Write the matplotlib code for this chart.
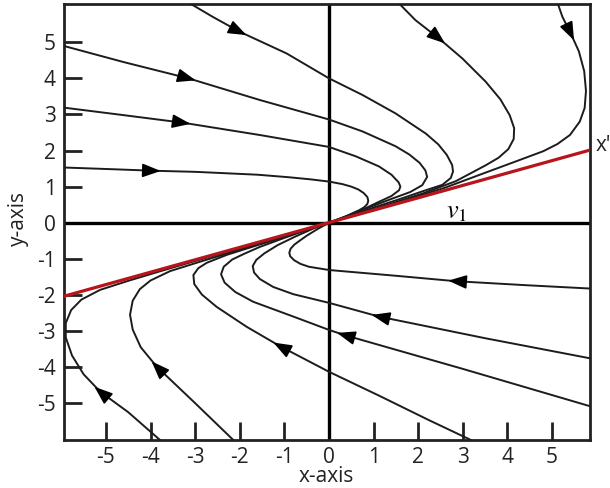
import numpy as np
import matplotlib
matplotlib.use("Agg")
import matplotlib.pyplot as plt

plt.rcParams['font.family'] = ['Open Sans', 'DejaVu Sans']
plt.rcParams['axes.unicode_minus'] = False
plt.rcParams['mathtext.fontset'] = 'stix'

# axis ticks
x_ticks = [-5, -4, -3, -2, -1, 0, 1, 2, 3, 4, 5]
y_ticks = [-5, -4, -3, -2, -1, 0, 1, 2, 3, 4, 5]

# eigenvector direction v1 (end points of the drawn line)
v1_x = [-5.95, 5.9]
v1_y = [-2.04, 2.03]

# trajectories, each listed in the direction of motion (toward the origin)
traj_u1 = [(-5.95, 1.53), (-4.8, 1.48), (-3.94, 1.44), (-3.0, 1.41), (-2.3, 1.37),
           (-1.6, 1.33), (-0.9, 1.26), (-0.4, 1.20), (0.0, 1.14), (0.30, 1.07),
           (0.50, 1.00), (0.66, 0.92), (0.78, 0.82), (0.86, 0.71), (0.88, 0.61),
           (0.86, 0.52), (0.79, 0.43), (0.68, 0.35), (0.40, 0.19), (0.0, 0.0)]
traj_u2 = [(-5.95, 3.19), (-4.6, 2.98), (-3.27, 2.77), (-1.55, 2.43), (0.0, 2.10),
           (0.6, 1.84), (1.12, 1.56), (1.40, 1.33), (1.56, 1.12), (1.60, 1.0),
           (1.57, 0.90), (1.40, 0.74), (1.12, 0.58), (0.75, 0.36), (0.35, 0.16), (0.0, 0.0)]
traj_u3 = [(-5.95, 4.90), (-4.6, 4.45), (-3.15, 4.0), (-1.55, 3.40), (0.0, 2.86),
           (0.75, 2.53), (1.49, 2.12), (1.80, 1.89), (2.03, 1.66), (2.16, 1.45),
           (2.20, 1.27), (2.09, 1.04), (1.82, 0.85), (1.40, 0.66), (0.95, 0.45),
           (0.5, 0.22), (0.0, 0.0)]
traj_u4 = [(-3.15, 6.1), (-2.6, 5.7), (-2.0, 5.29), (-0.95, 4.69), (0.0, 4.0),
           (0.75, 3.54), (1.49, 3.03), (2.17, 2.47), (2.45, 2.17), (2.64, 1.88),
           (2.76, 1.60), (2.78, 1.42), (2.73, 1.24), (2.54, 1.05), (2.12, 0.88),
           (1.55, 0.64), (1.0, 0.42), (0.5, 0.2), (0.0, 0.0)]
traj_u5 = [(1.55, 6.1), (1.94, 5.61), (2.47, 5.1), (2.99, 4.55), (3.51, 3.91),
           (3.84, 3.42), (4.05, 2.98), (4.15, 2.62), (4.14, 2.32), (4.02, 2.04),
           (3.80, 1.80), (3.51, 1.59), (2.84, 1.15), (2.1, 0.81), (1.4, 0.53),
           (0.7, 0.26), (0.0, 0.0)]
traj_u6 = [(5.12, 6.1), (5.23, 5.71), (5.42, 5.24), (5.60, 4.75), (5.72, 4.20),
           (5.76, 3.65), (5.73, 3.18), (5.62, 2.80), (5.40, 2.43), (5.12, 2.18),
           (4.80, 1.98), (4.19, 1.70), (3.36, 1.32), (2.6, 0.97), (1.8, 0.66),
           (0.9, 0.32), (0.0, 0.0)]

traj_l1 = [(5.95, -1.83), (4.4, -1.73), (2.84, -1.62), (1.5, -1.47), (0.0, -1.31),
           (-0.45, -1.22), (-0.64, -1.14), (-0.78, -1.04), (-0.87, -0.93),
           (-0.89, -0.83), (-0.86, -0.72), (-0.78, -0.61), (-0.66, -0.50),
           (-0.50, -0.36), (-0.25, -0.17), (0.0, 0.0)]
traj_l2 = [(5.95, -3.78), (3.5, -3.2), (1.12, -2.60), (0.0, -2.22), (-0.80, -1.98),
           (-1.25, -1.78), (-1.55, -1.56), (-1.68, -1.38), (-1.71, -1.20),
           (-1.63, -1.03), (-1.45, -0.85), (-1.15, -0.62), (-0.75, -0.38),
           (-0.35, -0.16), (0.0, 0.0)]
traj_l3 = [(5.95, -5.12), (3.0, -4.05), (0.34, -3.11), (0.0, -2.97), (-0.80, -2.60),
           (-1.70, -2.19), (-2.10, -1.92), (-2.34, -1.66), (-2.42, -1.43),
           (-2.36, -1.22), (-2.17, -1.02), (-1.90, -0.86), (-1.55, -0.67),
           (-1.0, -0.42), (-0.5, -0.2), (0.0, 0.0)]
traj_l4 = [(3.18, -6.02), (2.24, -5.47), (1.12, -4.79), (0.0, -4.13), (-1.10, -3.42),
           (-1.85, -2.88), (-2.52, -2.33), (-2.85, -1.99), (-3.02, -1.70),
           (-3.04, -1.45), (-2.93, -1.26), (-2.74, -1.11), (-2.29, -0.89),
           (-1.7, -0.66), (-1.1, -0.43), (-0.55, -0.21), (0.0, 0.0)]
traj_l5 = [(-2.12, -6.05), (-3.0, -5.0), (-3.86, -3.99), (-4.22, -3.45),
           (-4.40, -2.96), (-4.46, -2.55), (-4.40, -2.16), (-4.24, -1.84),
           (-4.00, -1.60), (-3.56, -1.34), (-2.89, -1.08), (-2.2, -0.82),
           (-1.5, -0.56), (-0.75, -0.28), (0.0, 0.0)]
traj_l6 = [(-3.76, -6.05), (-4.5, -5.25), (-5.13, -4.68), (-5.50, -4.20),
           (-5.76, -3.68), (-5.90, -3.18), (-5.90, -2.78), (-5.78, -2.42),
           (-5.55, -2.13), (-5.13, -1.86), (-4.5, -1.61), (-3.8, -1.35),
           (-3.0, -1.06), (-2.2, -0.78), (-1.4, -0.49), (-0.7, -0.245), (0.0, 0.0)]

trajectories = [traj_u1, traj_u2, traj_u3, traj_u4, traj_u5, traj_u6,
                traj_l1, traj_l2, traj_l3, traj_l4, traj_l5, traj_l6]

# arrow head centres, one per trajectory (same order)
arrow_at = [(-3.94, 1.44), (-3.27, 2.77), (-3.15, 4.0), (-2.0, 5.29),
            (2.47, 5.1), (5.42, 5.24),
            (2.84, -1.62), (1.12, -2.60), (0.34, -3.11), (-1.10, -3.42),
            (-3.86, -3.99), (-5.13, -4.68)]

fig = plt.figure(figsize=(6.1, 4.88), dpi=100)
ax = fig.add_axes([64 / 610, 48 / 488, 526 / 610, 436 / 488])
ax.set_xlim(-5.94, 5.85)
ax.set_ylim(-6.02, 6.06)

for s in ax.spines.values():
    s.set_linewidth(2.0)
    s.set_color('#222222')

ax.axhline(0, color='black', lw=2.4, zorder=2)
ax.axvline(0, color='black', lw=2.4, zorder=2)

for pts in trajectories:
    p = np.asarray(pts)
    ax.plot(p[:, 0], p[:, 1], color='#1c1c1c', lw=1.4, solid_joinstyle='round',
            solid_capstyle='round', zorder=3)

ax.plot(v1_x, v1_y, color='#b8141c', lw=2.3, zorder=4, solid_capstyle='butt')


def draw_arrow(pts, at):
    p = np.asarray(pts)
    d = np.hypot(p[:, 0] - at[0], p[:, 1] - at[1])
    i = int(np.argmin(d))
    i0, i1 = max(i - 1, 0), min(i + 1, len(p) - 1)
    disp = ax.transData.transform(p[[i0, i1]])
    u = disp[1] - disp[0]
    u = u / np.hypot(*u)
    c = ax.transData.transform(at)
    inv = ax.transData.inverted()
    tip = inv.transform(c + u * 7.5)
    tail = inv.transform(c - u * 8.0)
    ax.annotate('', xy=tip, xytext=tail,
                arrowprops=dict(arrowstyle='-|>,head_length=0.8,head_width=0.3',
                                mutation_scale=14, color='black', lw=1.2,
                                shrinkA=0, shrinkB=0), zorder=5)


for pts, at in zip(trajectories, arrow_at):
    draw_arrow(pts, at)

ax.set_xticks(x_ticks)
ax.set_yticks(y_ticks)
ax.set_xticklabels([str(v) for v in x_ticks])
ax.set_yticklabels([str(v) for v in y_ticks])
ax.tick_params(axis='both', direction='in', length=13, width=2.0,
               labelsize=15, color='#222222', labelcolor='#222222')
ax.tick_params(axis='x', pad=5)
ax.tick_params(axis='y', pad=6)

ax.text(2.85, 0.30, r'$v_1$', fontsize=19, ha='center', va='center', zorder=6)
ax.text(5.98, 2.15, "x'", fontsize=15, ha='left', va='center', clip_on=False,
        color='#222222')

fig.text(326 / 610, 1 - 477 / 488, 'x-axis', fontsize=15, ha='center', va='center',
         color='#222222')
fig.text(18.5 / 610, 1 - 218 / 488, 'y-axis', fontsize=15, ha='center', va='center',
         rotation=90, color='#222222')

fig.savefig('out.png', dpi=100)
